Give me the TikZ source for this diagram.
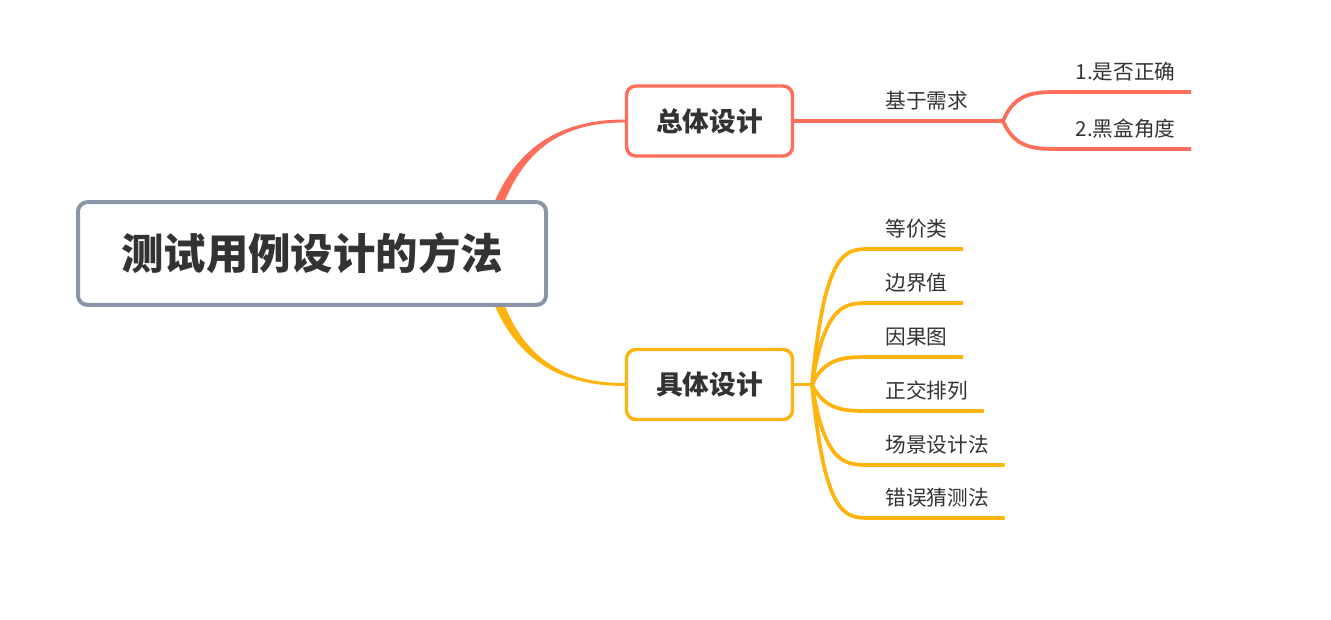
\documentclass[tikz,border=0pt]{standalone}
\usepackage{fontspec}
\setmainfont{Noto Sans CJK SC}
\usepackage{xcolor}
\definecolor{cRoot}{HTML}{8A96A8}
\definecolor{cRed}{HTML}{FF6E5A}
\definecolor{cYellow}{HTML}{FFB30F}
\definecolor{cText}{HTML}{333333}
\usetikzlibrary{positioning,backgrounds}
\tikzset{
  node-root/.style={draw=cRoot,line width=3pt,rounded corners=7pt,fill=white,
    minimum width=351pt,minimum height=77pt,text=cText,
    font=\fontsize{31.8}{36}\selectfont\bfseries},
  node-topic/.style={line width=2.6pt,rounded corners=7pt,fill=white,
    minimum width=124.5pt,minimum height=52.5pt,text=cText,
    font=\fontsize{20}{24}\selectfont\bfseries},
  node-leaf/.style={anchor=south west,inner xsep=11.5pt,inner ysep=9.5pt,
    text depth=0pt,text=cText,font=\fontsize{15.5}{18}\selectfont},
  line-red/.style={draw=cRed,line width=2.8pt},
  line-yellow/.style={draw=cYellow,line width=2.8pt},
}

\begin{document}
\begin{tikzpicture}[x=0.75pt,y=-0.75pt]
  \useasboundingbox (0,0) rectangle (1331,619);
  \node[node-root] (root) at (312,253.5) {测试用例设计的方法};
  \node[node-topic,draw=cRed]    (zt) at (709.5,121) {总体设计};
  \node[node-topic,draw=cYellow] (jt) at (709.5,384.5) {具体设计};
  % 总体设计 分支
  \node[node-leaf] (xq) at (870,121) {基于需求};
  \coordinate (xf) at (1003,121);
  \node[node-leaf] (zq) at (1060,92)  {1.是否正确};
  \node[node-leaf] (hh) at (1060,149) {2.黑盒角度};
  % 具体设计 分支
  \coordinate (jf) at (812,384.5);
  \node[node-leaf] (dj) at (870,249) {等价类};
  \node[node-leaf] (bj) at (870,303) {边界值};
  \node[node-leaf] (yg) at (870,357) {因果图};
  \node[node-leaf] (zj) at (870,411) {正交排列};
  \node[node-leaf] (cj) at (870,465) {场景设计法};
  \node[node-leaf] (cw) at (870,518) {错误猜测法};
  \begin{scope}[on background layer]
    \coordinate (rt) at (482,240);
    \coordinate (rb) at (482,267);
    \fill[cRed] (rt) .. controls (502,158) and (548,119.5) .. ([yshift=1.1pt]zt.west)
      -- ([yshift=-1.1pt]zt.west) .. controls (548,122.5) and (512,162) .. ([xshift=7.5pt]rb |- rt) -- cycle;
    \fill[cYellow] (rb) .. controls (502,349) and (548,386) .. ([yshift=-1.1pt]jt.west)
      -- ([yshift=1.1pt]jt.west) .. controls (548,383) and (512,345) .. ([xshift=7.5pt]rb) -- cycle;
  \end{scope}
  \draw[line-red] (zt.east) -- (xq.south west) -- (xf);
  \draw[line-red] (xf) .. controls (1015,92) and (1035,92) .. (zq.south west) -- (zq.south east);
  \draw[line-red] (xf) .. controls (1015,149) and (1035,149) .. (hh.south west) -- (hh.south east);
  \draw[line-yellow] (jt.east) -- (jf);
  \draw[line-yellow] (jf) .. controls (825,249) and (845,249) .. (dj.south west) -- (dj.south east);
  \draw[line-yellow] (jf) .. controls (825,303) and (845,303) .. (bj.south west) -- (bj.south east);
  \draw[line-yellow] (jf) .. controls (825,357) and (845,357) .. (yg.south west) -- (yg.south east);
  \draw[line-yellow] (jf) .. controls (825,411) and (845,411) .. (zj.south west) -- (zj.south east);
  \draw[line-yellow] (jf) .. controls (825,465) and (845,465) .. (cj.south west) -- (cj.south east);
  \draw[line-yellow] (jf) .. controls (825,518) and (845,518) .. (cw.south west) -- (cw.south east);
\end{tikzpicture}
\end{document}
